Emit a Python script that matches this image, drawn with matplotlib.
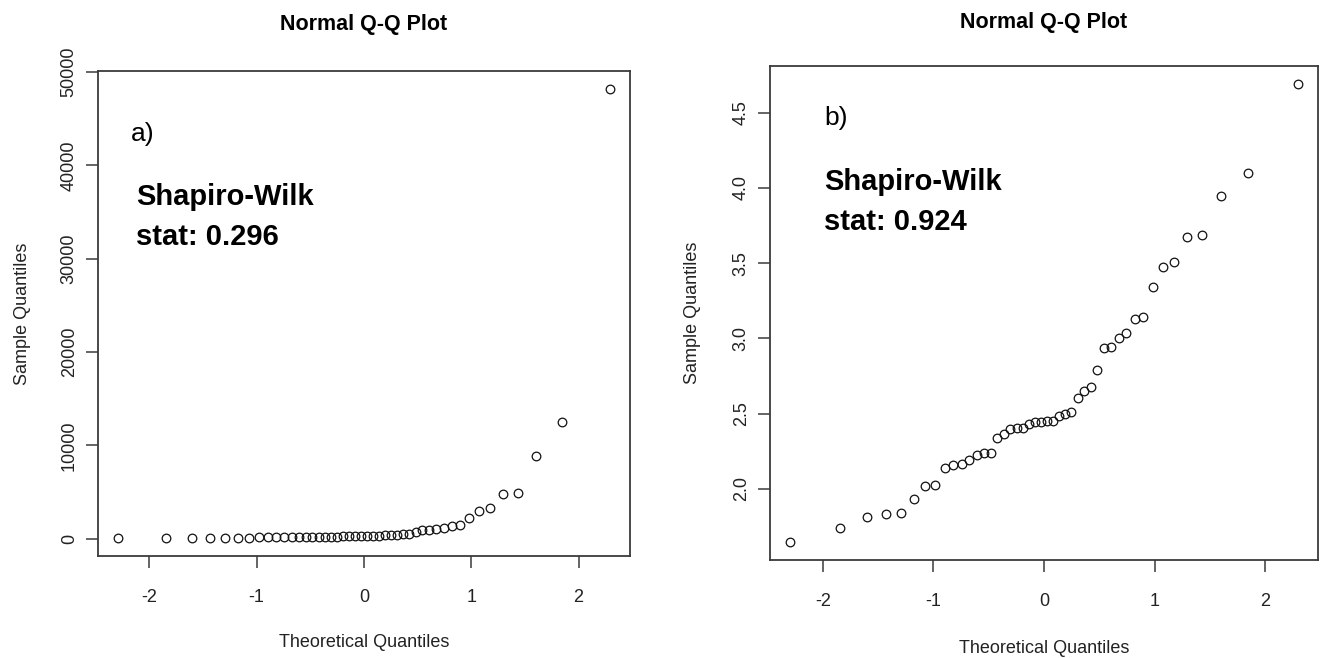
import matplotlib
matplotlib.use("Agg")
import matplotlib.pyplot as plt
import matplotlib.ticker as ticker

# theoretical normal quantiles for n = 46 observations
theoretical = [
    -2.295, -1.843, -1.604, -1.432, -1.294, -1.178, -1.074, -0.982, -0.897, -0.819,
    -0.745, -0.674, -0.607, -0.543, -0.481, -0.421, -0.362, -0.305, -0.248, -0.192,
    -0.137, -0.082, -0.027, 0.027, 0.082, 0.137, 0.192, 0.248, 0.305, 0.362,
    0.421, 0.481, 0.543, 0.607, 0.674, 0.745, 0.819, 0.897, 0.982, 1.074,
    1.178, 1.294, 1.432, 1.604, 1.843, 2.295,
]

# sorted sample values, raw scale
sample_raw = [
    60, 80, 90, 100, 105, 110, 115, 120, 125, 130,
    140, 150, 160, 170, 180, 190, 200, 210, 220, 230,
    240, 250, 260, 280, 300, 330, 360, 390, 420, 470,
    540, 680, 880, 960, 1050, 1100, 1350, 1500, 2170, 3000,
    3270, 4750, 4880, 8800, 12480, 48180,
]

# sorted sample values, log scale
sample_log = [
    1.646, 1.743, 1.814, 1.832, 1.841, 1.936, 2.016, 2.023, 2.138, 2.161,
    2.167, 2.192, 2.225, 2.237, 2.241, 2.341, 2.368, 2.398, 2.403, 2.405,
    2.428, 2.445, 2.446, 2.452, 2.453, 2.483, 2.496, 2.508, 2.605, 2.650,
    2.680, 2.793, 2.933, 2.944, 3.003, 3.037, 3.132, 3.143, 3.339, 3.477,
    3.506, 3.676, 3.685, 3.944, 4.097, 4.688,
]

x_ticks = [-2, -1, 0, 1, 2]
y_ticks_raw = [0, 10000, 20000, 30000, 40000, 50000]
y_ticks_log = [2.0, 2.5, 3.0, 3.5, 4.0, 4.5]

panel_tags = ["a)", "b)"]
sw_stats = [0.296, 0.924]

FONT = "Liberation Sans"
INK = "#222222"
BOX = "#3a3a3a"

plt.rcParams["font.family"] = [FONT, "DejaVu Sans"]


def r_limits(vals):
    # base-R style 4% padding around the data range
    lo, hi = min(vals), max(vals)
    pad = (hi - lo) * 0.04
    return lo - pad, hi + pad


def qq_panel(ax, y, yticks, yfmt, tag, stat, title_pad, text_pos):
    ax.plot(theoretical, y, linestyle="none", marker="o", markersize=6.2,
            markerfacecolor="none", markeredgecolor="#111111", markeredgewidth=0.9)
    ax.set_xlim(*r_limits(theoretical))
    ax.set_ylim(*r_limits(y))
    ax.set_xticks(x_ticks)
    ax.set_yticks(yticks)
    ax.yaxis.set_major_formatter(ticker.FormatStrFormatter(yfmt))
    ax.xaxis.set_major_formatter(ticker.FormatStrFormatter("%d"))

    for spine in ax.spines.values():
        spine.set_edgecolor(BOX)
        spine.set_linewidth(1.3)
    ax.tick_params(axis="both", direction="out", length=8.5, width=1.1,
                   color=BOX, labelcolor=INK, labelsize=13)
    ax.tick_params(axis="x", pad=15)
    ax.tick_params(axis="y", pad=6, labelrotation=90)
    for lab in ax.get_yticklabels():
        lab.set_va("center")

    ax.set_title("Normal Q-Q Plot", fontsize=15.5, fontweight="bold",
                 pad=title_pad)
    ax.set_xlabel("Theoretical Quantiles", fontsize=13, color=INK)
    ax.set_ylabel("Sample Quantiles", fontsize=13, color=INK)
    ax.xaxis.label.set_va("center")
    ax.yaxis.label.set_va("center")
    ax.xaxis.set_label_coords(0.5, -0.178)
    ax.yaxis.set_label_coords(-0.142, 0.5)

    tag_x, tag_y, sw_x, sw_y1, sw_y2 = text_pos
    ax.text(tag_x, tag_y, tag, transform=ax.transAxes, fontsize=19,
            color="black", va="baseline")
    ax.text(sw_x, sw_y1, "Shapiro-Wilk", transform=ax.transAxes,
            fontsize=21, fontweight="bold", color="black", va="baseline")
    ax.text(sw_x, sw_y2, f"stat: {stat:.3f}", transform=ax.transAxes,
            fontsize=21, fontweight="bold", color="black", va="baseline")


fig = plt.figure(figsize=(13.2, 6.58), dpi=100)
fig.patch.set_facecolor("white")

ax_a = fig.add_axes([0.0742, 0.155, 0.403, 0.737])
ax_b = fig.add_axes([0.5833, 0.1482, 0.4152, 0.7515])

qq_panel(ax_a, sample_raw, y_ticks_raw, "%d", panel_tags[0], sw_stats[0], 29.5,
         (0.062, 0.855, 0.072, 0.724, 0.641))
qq_panel(ax_b, sample_log, y_ticks_log, "%.1f", panel_tags[1], sw_stats[1], 27.5,
         (0.0985, 0.881, 0.0985, 0.749, 0.668))

fig.savefig("out.png", dpi=100, facecolor="white")
